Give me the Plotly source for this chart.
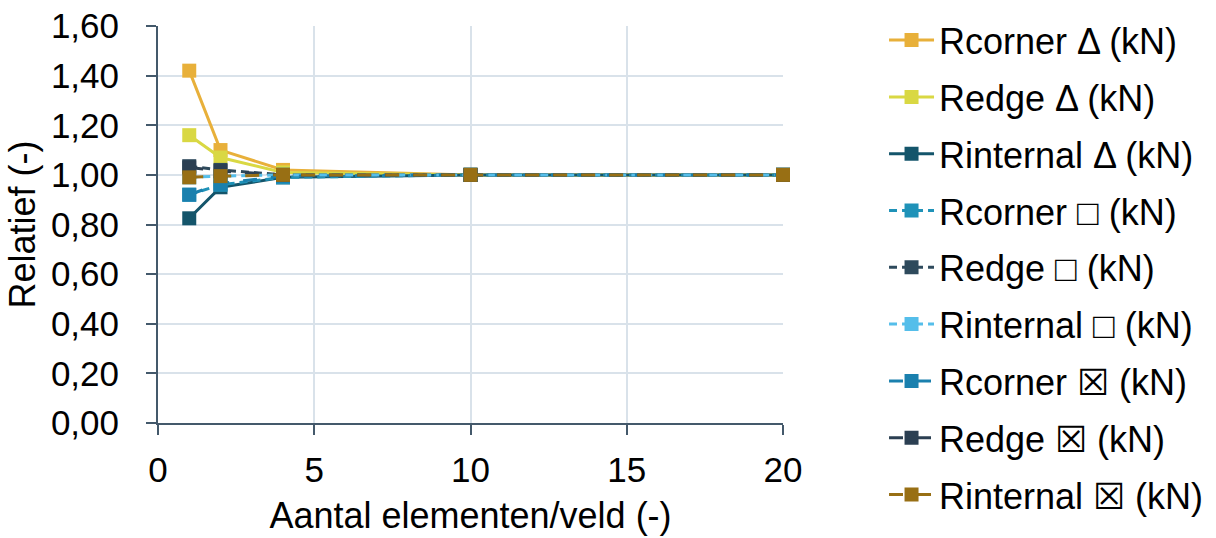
import plotly.graph_objects as go

x_vals = [1, 2, 4, 10, 20]
names = ["Rcorner Δ (kN)", "Redge Δ (kN)", "Rinternal Δ (kN)",
         "Rcorner □ (kN)", "Redge □ (kN)", "Rinternal □ (kN)",
         "Rcorner ☒ (kN)", "Redge ☒ (kN)", "Rinternal ☒ (kN)"]
rcorner_tri = [1.42, 1.10, 1.02, 1.00, 1.00]
redge_tri = [1.16, 1.07, 1.01, 1.00, 1.00]
rinternal_tri = [0.825, 0.95, 0.99, 1.00, 1.00]
rcorner_sq = [0.92, 0.96, 0.99, 1.00, 1.00]
redge_sq = [1.035, 1.02, 1.00, 1.00, 1.00]
rinternal_sq = [0.99, 0.995, 1.00, 1.00, 1.00]
rcorner_x = [0.92, 0.965, 0.995, 1.00, 1.00]
redge_x = [1.03, 1.015, 1.00, 1.00, 1.00]
rinternal_x = [0.99, 0.995, 1.00, 1.00, 1.00]

series = [rcorner_tri, redge_tri, rinternal_tri, rcorner_sq, redge_sq,
          rinternal_sq, rcorner_x, redge_x, rinternal_x]
colors = ["#E8B03A", "#D9D843", "#14556B", "#1F92B8", "#2E4A5C",
          "#55BEEA", "#1A80AE", "#2B3F52", "#986F14"]
dashes = ["solid", "solid", "solid", "8px,5px", "8px,5px", "8px,5px",
          "14px,14px", "14px,14px", "14px,14px"]

fig = go.Figure()
for i, (nm, ys, c, d) in enumerate(zip(names, series, colors, dashes)):
    fig.add_trace(go.Scatter(
        x=x_vals, y=ys, name=nm, mode="lines+markers",
        line=dict(color=c, width=3, dash=d),
        marker=dict(symbol="square", size=14, color=c),
        legendgroup="g%d" % i, cliponaxis=False,
    ))

fig.update_layout(
    width=1216, height=538,
    margin=dict(l=158, r=433, t=26, b=115),
    plot_bgcolor="white", paper_bgcolor="white",
    separators=", ",
    font=dict(family="Liberation Sans, Arial, sans-serif", size=35, color="black"),
    showlegend=True,
    legend=dict(xref="container", yref="container", x=0.727, y=0.981,
                xanchor="left", yanchor="top", maxheight=1,
                font=dict(size=36), tracegroupgap=7, itemwidth=45,
                bgcolor="rgba(0,0,0,0)"),
    xaxis=dict(range=[0, 20], tickvals=[0, 5, 10, 15, 20],
               automargin=False,
               showgrid=True, gridcolor="#D9E2EA", gridwidth=1.5,
               showline=True, linecolor="#44596B", linewidth=2,
               ticks="outside", ticklen=10, tickcolor="#44596B", tickwidth=2,
               ticklabelstandoff=5,
               zeroline=False,
               title=dict(text="Aantal elementen/veld (-)", font=dict(size=36), standoff=15)),
    yaxis=dict(range=[0, 1.6], tickvals=[0, 0.2, 0.4, 0.6, 0.8, 1.0, 1.2, 1.4, 1.6],
               tickformat=".2f", automargin=False,
               showgrid=True, gridcolor="#D9E2EA", gridwidth=1.5,
               showline=True, linecolor="#44596B", linewidth=2,
               ticks="outside", ticklen=10, tickcolor="#44596B", tickwidth=2,
               ticklabelstandoff=20,
               zeroline=False,
               title=dict(text="Relatief (-)", font=dict(size=36), standoff=4)),
)

fig.write_html("out.html")
